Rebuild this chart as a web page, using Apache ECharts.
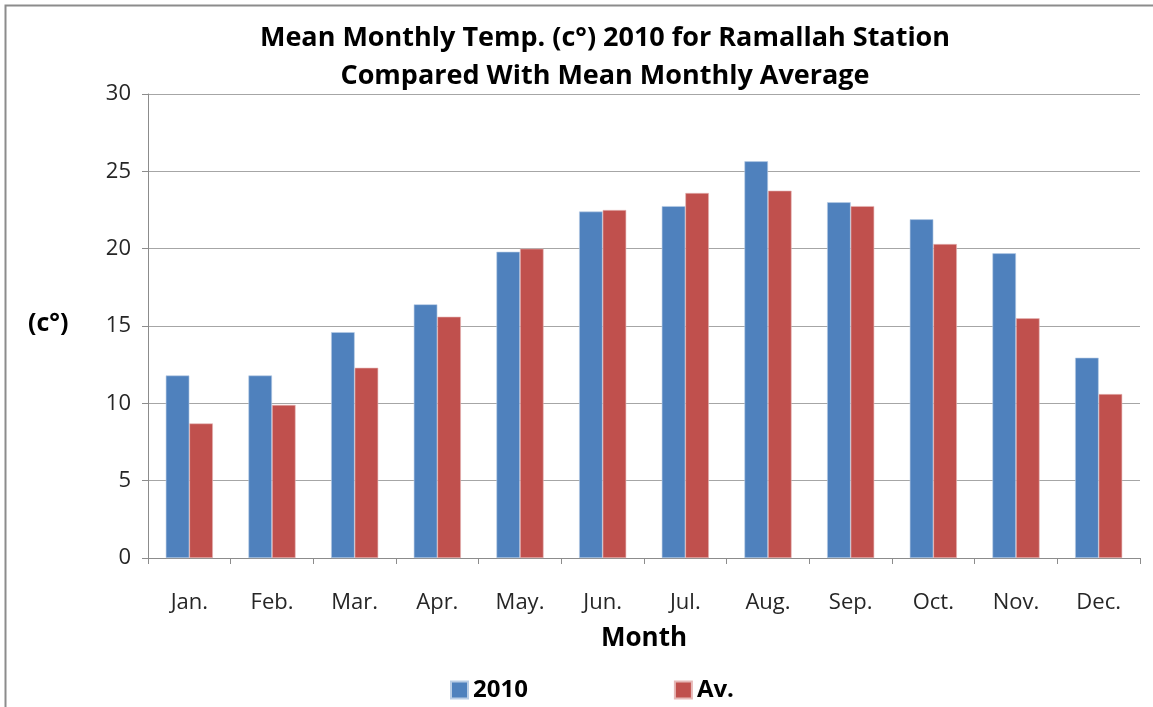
<!DOCTYPE html>
<html>
<head>
<meta charset="utf-8">
<script src="https://cdn.jsdelivr.net/npm/echarts@6/dist/echarts.min.js"></script>
<style>
  html, body { margin: 0; padding: 0; background: #fff; }
  #chart { width: 1153px; height: 707px; }
</style>
</head>
<body>
<div id="chart"></div>
<script>
const months = ['Jan.', 'Feb.', 'Mar.', 'Apr.', 'May.', 'Jun.', 'Jul.', 'Aug.', 'Sep.', 'Oct.', 'Nov.', 'Dec.']
const temp2010 = [11.8, 11.8, 14.6, 16.4, 19.8, 22.4, 22.75, 25.65, 23.0, 21.9, 19.7, 12.95]
const tempAv = [8.7, 9.9, 12.3, 15.6, 20.0, 22.5, 23.6, 23.75, 22.75, 20.3, 15.5, 10.6]
const yTicks = { min: 0, max: 30, interval: 5 }

const font = '"Open Sans", "DejaVu Sans", sans-serif'
const chart = echarts.init(document.getElementById('chart'))

chart.setOption({
  backgroundColor: '#ffffff',
  animation: false,
  textStyle: { fontFamily: font },
  title: {
    text: 'Mean Monthly Temp. (c°) 2010 for Ramallah Station\nCompared With Mean Monthly Average',
    left: 600,
    textAlign: 'center',
    top: 14,
    textStyle: {
      fontFamily: font,
      fontSize: 27,
      fontWeight: 'bold',
      color: '#000',
      lineHeight: 38
    }
  },
  graphic: [
    {
      type: 'rect',
      shape: { x: 5.5, y: 5.5, width: 1160, height: 720 },
      style: { fill: 'none', stroke: '#8c8c8c', lineWidth: 2 },
      silent: true
    },
    {
      type: 'text',
      left: 28,
      top: 311,
      style: {
        text: '(c°)',
        fontFamily: font,
        fontSize: 25,
        fontWeight: 'bold',
        fill: '#000'
      }
    }
  ],
  legend: {
    top: 673,
    left: 445,
    itemGap: 146,
    itemWidth: 17,
    itemHeight: 17,
    icon: 'rect',
    textStyle: { fontFamily: font, fontSize: 24, fontWeight: 'bold', color: '#000' },
    data: ['2010', 'Av.']
  },
  grid: {
    left: 148,
    right: 13,
    top: 94,
    bottom: 149
  },
  xAxis: {
    type: 'category',
    data: months,
    name: 'Month',
    nameLocation: 'middle',
    nameGap: 68,
    nameTextStyle: { fontFamily: font, fontSize: 26, fontWeight: 'bold', color: '#000' },
    axisLine: { lineStyle: { color: '#8c8c8c', width: 1 } },
    axisTick: { show: true, alignWithLabel: false, length: 6, lineStyle: { color: '#8c8c8c' } },
    axisLabel: { margin: 34, fontSize: 22, color: '#262626', fontFamily: font }
  },
  yAxis: {
    type: 'value',
    min: yTicks.min,
    max: yTicks.max,
    interval: yTicks.interval,
    axisLine: { show: true, lineStyle: { color: '#8c8c8c' } },
    axisTick: { show: true, length: 6, lineStyle: { color: '#8c8c8c' } },
    axisLabel: { margin: 17, fontSize: 22, color: '#262626', fontFamily: font },
    splitLine: { lineStyle: { color: '#a6a6a6', width: 1 } }
  },
  series: [
    {
      name: '2010',
      type: 'bar',
      data: temp2010,
      barGap: '0%',
      barCategoryGap: '43%',
      itemStyle: { color: '#4f81bd', borderColor: '#b9cde5', borderWidth: 0.6 }
    },
    {
      name: 'Av.',
      type: 'bar',
      data: tempAv,
      itemStyle: { color: '#c0504d', borderColor: '#e6b9b8', borderWidth: 0.6 }
    }
  ]
})
</script>
</body>
</html>
